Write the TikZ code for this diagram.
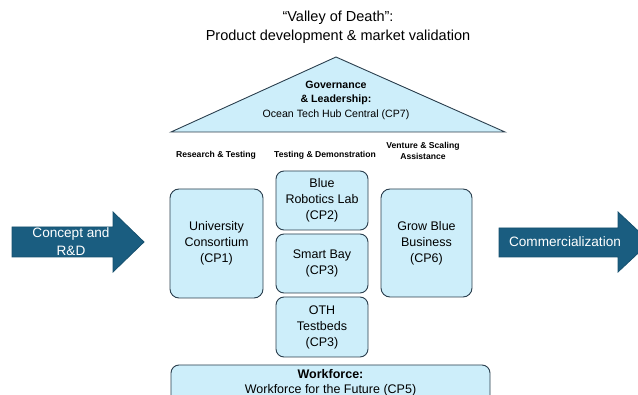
\documentclass[tikz,border=0pt]{standalone}
\usepackage{fontspec}
\setmainfont{Liberation Sans}
\usepackage{tikz}
\usetikzlibrary{calc,positioning}
\usepackage{xcolor}

\definecolor{hubfill}{HTML}{CDEEFA}
\definecolor{hubline}{HTML}{2A3E4D}
\definecolor{stagefill}{HTML}{1A5D80}
\definecolor{stageline}{HTML}{16506E}

\tikzset{
  hubbox/.style={draw=hubline, fill=hubfill, line width=0.9pt, rounded corners=9pt,
    align=center, inner sep=0pt, font=\fontsize{12.5}{16}\selectfont},
  stagearrow/.style={draw=stageline, fill=stagefill, line width=0.8pt},
  stagetext/.style={text=white, align=center, font=\fontsize{13.6}{18}\selectfont},
  pillar/.style={align=center, font=\bfseries\fontsize{8.6}{11}\selectfont}
}

\begin{document}
\begin{tikzpicture}[x=1pt,y=-1pt]
    \useasboundingbox (0,0) rectangle (638,395);

    % title
    \node[align=center, font=\fontsize{14.5}{19}\selectfont] (title) at (338,27)
      {``Valley of Death'':\\Product development \& market validation};

    % the roof
    \draw[draw=hubline, fill=hubfill, line width=0.9pt] (171,132) -- (336,57) -- (505,132) -- cycle;
    \node[align=center, font=\fontsize{10.6}{14.5}\selectfont] (gov) at (336,100)
      {\textbf{Governance}\\\textbf{\& Leadership:}\\Ocean Tech Hub Central (CP7)};

    % pillar labels
    \node[pillar] (research) at (216,155) {Research \& Testing};
    \node[pillar] (testing)  at (325,155) {Testing \& Demonstration};
    \node[pillar] (venture)  at (423,151) {Venture \& Scaling\\Assistance};

    % the pillars
    \node[hubbox, minimum width=93pt, minimum height=109pt] (cp1) at (216.5,243.5)
      {University\\Consortium\\(CP1)};
    \node[hubbox, rounded corners=8pt, minimum width=92pt, minimum height=59pt] (cp2) at (322,200.5)
      {Blue\\Robotics Lab\\(CP2)};
    \node[hubbox, rounded corners=8pt, minimum width=92pt, minimum height=59pt] (cp3) at (322,263.5)
      {Smart Bay\\(CP3)};
    \node[hubbox, rounded corners=8pt, minimum width=92pt, minimum height=60pt] (oth) at (322,327)
      {OTH\\Testbeds\\(CP3)};
    \node[hubbox, minimum width=91pt, minimum height=108pt] (cp6) at (426.5,243)
      {Grow Blue\\Business\\(CP6)};

    % the foundation
    \draw[draw=hubline, fill=hubfill, line width=0.9pt, rounded corners=8pt] (171,365) rectangle (490,420);
    \node[align=center, font=\fontsize{12.5}{14.5}\selectfont] (cp5) at (330.5,383)
      {\textbf{Workforce:}\\Workforce for the Future (CP5)};

    % arrow in
    \draw[stagearrow] (12,227) -- (113,227) -- (113,212) -- (144,242) -- (113,272) -- (113,257) -- (12,257) -- cycle;
    \node[stagetext] (concept) at (71,242) {Concept and\\R\&D};

    % arrow out
    \draw[stagearrow] (499,228) -- (618,228) -- (618,212) -- (650,242) -- (618,272) -- (618,257) -- (499,257) -- cycle;
    \node[stagetext] (market) at (565,242) {Commercialization};
  \end{tikzpicture}
\end{document}
